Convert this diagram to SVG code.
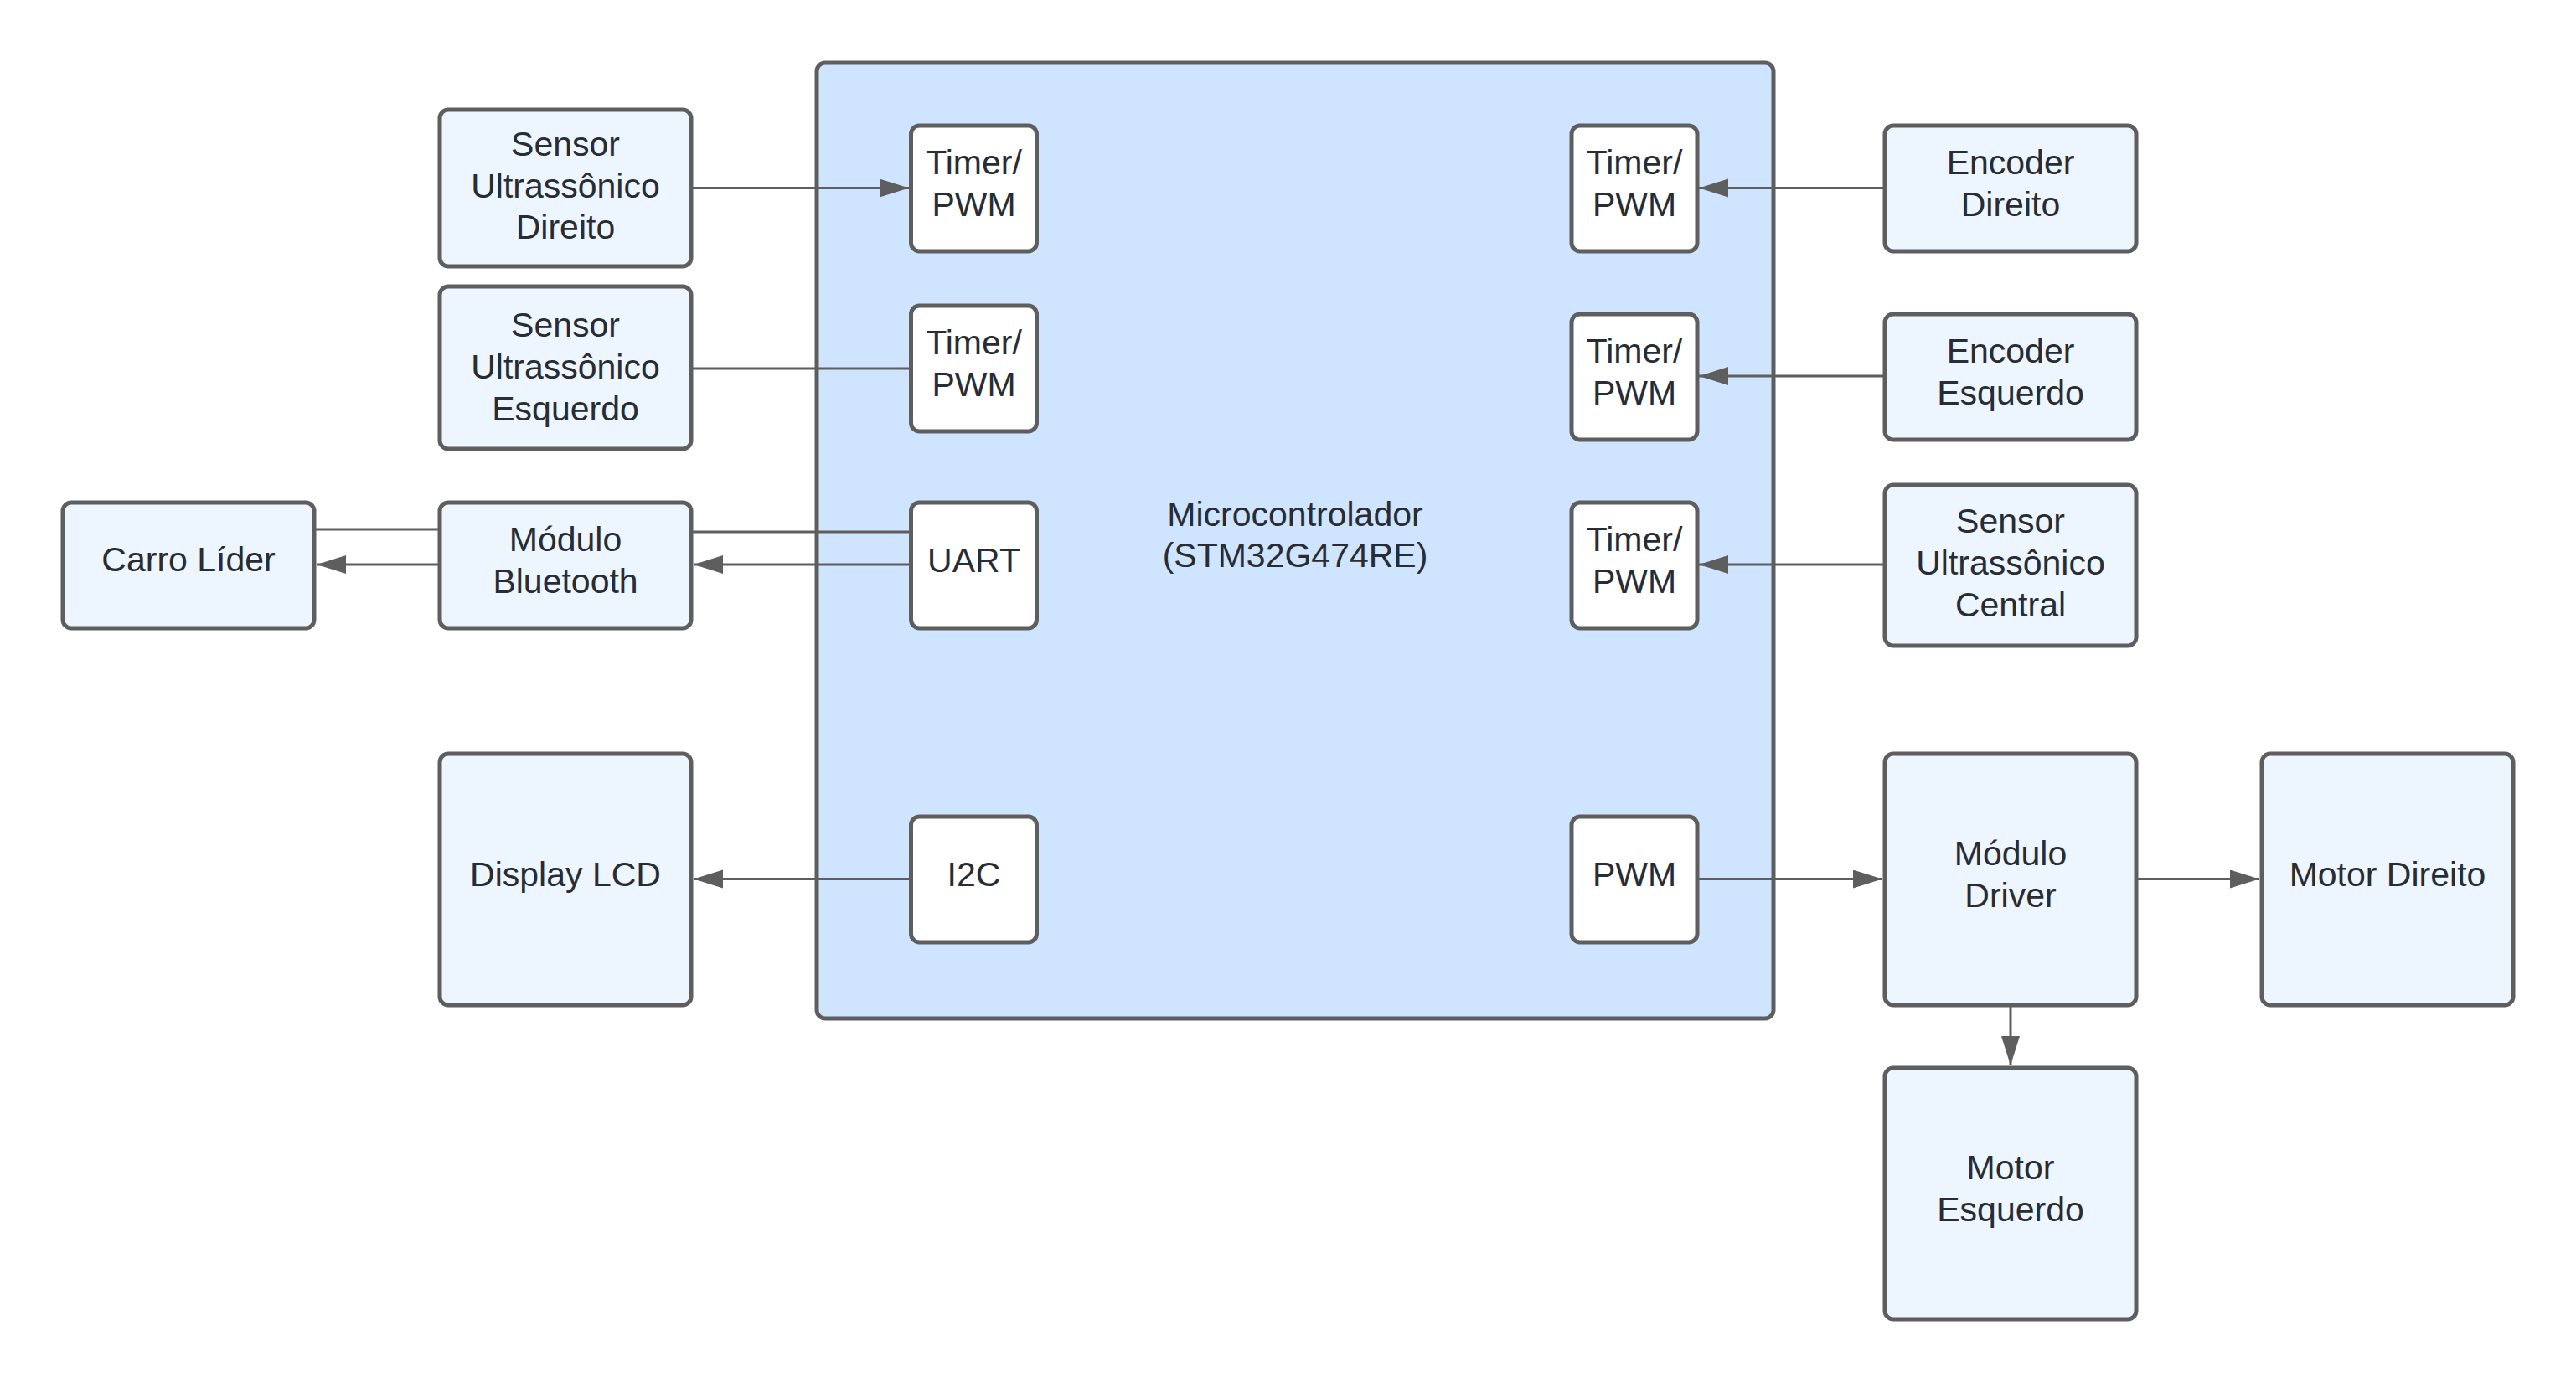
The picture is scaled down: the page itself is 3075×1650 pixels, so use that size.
<svg xmlns="http://www.w3.org/2000/svg" width="3075" height="1650" viewBox="0 0 3075 1650">
  <defs>
    <style>
      .box { fill: #EDF5FF; stroke: #5E5E5E; stroke-width: 5; }
      .mcu { fill: #CFE4FF; stroke: #5E5E5E; stroke-width: 5; }
      .port { fill: #FFFFFF; stroke: #5E5E5E; stroke-width: 5; }
      .lbl { font-family: "Liberation Sans", Arial, sans-serif; font-size: 41px; fill: #282C33; text-anchor: middle; }
      .conn { fill: none; stroke: #5E5E5E; stroke-width: 3; }
    </style>
    <marker id="arrow" markerUnits="userSpaceOnUse" markerWidth="36" markerHeight="24" refX="35" refY="11" orient="auto">
      <path d="M0,0 L35,11 L0,22 Z" fill="#5E5E5E"/>
    </marker>
  </defs>
  <rect x="0" y="0" width="3075" height="1650" fill="#FFFFFF"/>

  <g id="mcu">
    <rect class="mcu" x="975" y="75" width="1142" height="1141" rx="10"/>
    <text class="lbl" x="1546" y="628">Microcontrolador</text>
    <text class="lbl" x="1546" y="677">(STM32G474RE)</text>
  </g>

  <g id="connectors">
    <line class="conn" x1="827" y1="224.5" x2="1085" y2="224.5" marker-end="url(#arrow)"/>
    <line class="conn" x1="827" y1="440" x2="1087" y2="440"/>
    <line class="conn" x1="827" y1="635" x2="1087" y2="635"/>
    <line class="conn" x1="1087" y1="674" x2="828" y2="674" marker-end="url(#arrow)"/>
    <line class="conn" x1="377" y1="632" x2="523" y2="632"/>
    <line class="conn" x1="523" y1="674" x2="378" y2="674" marker-end="url(#arrow)"/>
    <line class="conn" x1="1087" y1="1049.5" x2="828" y2="1049.5" marker-end="url(#arrow)"/>
    <line class="conn" x1="2248" y1="224.5" x2="2028" y2="224.5" marker-end="url(#arrow)"/>
    <line class="conn" x1="2248" y1="449" x2="2028" y2="449" marker-end="url(#arrow)"/>
    <line class="conn" x1="2248" y1="674" x2="2028" y2="674" marker-end="url(#arrow)"/>
    <line class="conn" x1="2028" y1="1049.5" x2="2247" y2="1049.5" marker-end="url(#arrow)"/>
    <line class="conn" x1="2552" y1="1049.5" x2="2697" y2="1049.5" marker-end="url(#arrow)"/>
    <line class="conn" x1="2400" y1="1202" x2="2400" y2="1272" marker-end="url(#arrow)"/>
  </g>

  <g id="sensor-ultrassonico-direito">
    <rect class="box" x="525" y="131" width="300" height="187" rx="10"/>
    <text class="lbl" x="675" y="186">Sensor</text>
    <text class="lbl" x="675" y="236">Ultrassônico</text>
    <text class="lbl" x="675" y="285">Direito</text>
  </g>
  <g id="sensor-ultrassonico-esquerdo">
    <rect class="box" x="525" y="342" width="300" height="194" rx="10"/>
    <text class="lbl" x="675" y="401.5">Sensor</text>
    <text class="lbl" x="675" y="451.5">Ultrassônico</text>
    <text class="lbl" x="675" y="501.5">Esquerdo</text>
  </g>
  <g id="carro-lider">
    <rect class="box" x="75" y="600" width="300" height="150" rx="10"/>
    <text class="lbl" x="225" y="682">Carro Líder</text>
  </g>
  <g id="modulo-bluetooth">
    <rect class="box" x="525" y="600" width="300" height="150" rx="10"/>
    <text class="lbl" x="675" y="658">Módulo</text>
    <text class="lbl" x="675" y="708">Bluetooth</text>
  </g>
  <g id="display-lcd">
    <rect class="box" x="525" y="900" width="300" height="300" rx="10"/>
    <text class="lbl" x="675" y="1058">Display LCD</text>
  </g>

  <g id="timer-pwm-l1">
    <rect class="port" x="1087.5" y="150" width="150" height="150" rx="10"/>
    <text class="lbl" x="1162.5" y="208">Timer/</text>
    <text class="lbl" x="1162.5" y="258">PWM</text>
  </g>
  <g id="timer-pwm-l2">
    <rect class="port" x="1087.5" y="365" width="150" height="150" rx="10"/>
    <text class="lbl" x="1162.5" y="423">Timer/</text>
    <text class="lbl" x="1162.5" y="473">PWM</text>
  </g>
  <g id="uart">
    <rect class="port" x="1087.5" y="600" width="150" height="150" rx="10"/>
    <text class="lbl" x="1162.5" y="683">UART</text>
  </g>
  <g id="i2c">
    <rect class="port" x="1087.5" y="975" width="150" height="150" rx="10"/>
    <text class="lbl" x="1162.5" y="1058">I2C</text>
  </g>

  <g id="timer-pwm-r1">
    <rect class="port" x="1876" y="150" width="150" height="150" rx="10"/>
    <text class="lbl" x="1951" y="208">Timer/</text>
    <text class="lbl" x="1951" y="258">PWM</text>
  </g>
  <g id="timer-pwm-r2">
    <rect class="port" x="1876" y="375" width="150" height="150" rx="10"/>
    <text class="lbl" x="1951" y="433">Timer/</text>
    <text class="lbl" x="1951" y="483">PWM</text>
  </g>
  <g id="timer-pwm-r3">
    <rect class="port" x="1876" y="600" width="150" height="150" rx="10"/>
    <text class="lbl" x="1951" y="658">Timer/</text>
    <text class="lbl" x="1951" y="708">PWM</text>
  </g>
  <g id="pwm">
    <rect class="port" x="1876" y="975" width="150" height="150" rx="10"/>
    <text class="lbl" x="1951" y="1058">PWM</text>
  </g>

  <g id="encoder-direito">
    <rect class="box" x="2250" y="150" width="300" height="150" rx="10"/>
    <text class="lbl" x="2400" y="208">Encoder</text>
    <text class="lbl" x="2400" y="258">Direito</text>
  </g>
  <g id="encoder-esquerdo">
    <rect class="box" x="2250" y="375" width="300" height="150" rx="10"/>
    <text class="lbl" x="2400" y="433">Encoder</text>
    <text class="lbl" x="2400" y="483">Esquerdo</text>
  </g>
  <g id="sensor-ultrassonico-central">
    <rect class="box" x="2250" y="579" width="300" height="192" rx="10"/>
    <text class="lbl" x="2400" y="636">Sensor</text>
    <text class="lbl" x="2400" y="686">Ultrassônico</text>
    <text class="lbl" x="2400" y="736">Central</text>
  </g>
  <g id="modulo-driver">
    <rect class="box" x="2250" y="900" width="300" height="300" rx="10"/>
    <text class="lbl" x="2400" y="1033">Módulo</text>
    <text class="lbl" x="2400" y="1083">Driver</text>
  </g>
  <g id="motor-direito">
    <rect class="box" x="2700" y="900" width="300" height="300" rx="10"/>
    <text class="lbl" x="2850" y="1058">Motor Direito</text>
  </g>
  <g id="motor-esquerdo">
    <rect class="box" x="2250" y="1275" width="300" height="300" rx="10"/>
    <text class="lbl" x="2400" y="1408">Motor</text>
    <text class="lbl" x="2400" y="1458">Esquerdo</text>
  </g>
</svg>
